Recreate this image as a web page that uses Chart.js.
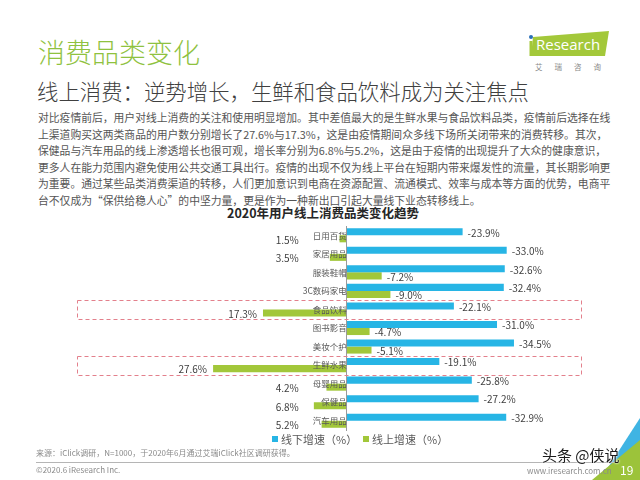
<!DOCTYPE html>
<html>
<head>
<meta charset="utf-8">
<script src="https://cdn.jsdelivr.net/npm/chart.js@4"></script>
<style>
  body { margin: 0; width: 640px; height: 480px; position: relative; overflow: hidden; background: #fff;
         font-family: "Noto Sans CJK SC", "Noto Sans", sans-serif; }
  .abs { position: absolute; white-space: nowrap; }
  #title { left: 38px; top: 36px; font-size: 27px; line-height: 32px; color: #8fc23f; font-weight: 300; }
  #subtitle { left: 37px; top: 77px; font-size: 21.4px; line-height: 28px; color: #404040; font-weight: 300; }
  #para { position: absolute; left: 38px; top: 109px; width: 565px; font-size: 10.8px; line-height: 16.6px; color: #555; }
  #para div { text-align: justify; text-align-last: justify; white-space: nowrap; }
  #para div.last { text-align-last: left; }
  #ctitle { left: 227px; top: 204px; font-size: 12.5px; line-height: 18px; font-weight: bold; color: #262626; }
  .legend { top: 432px; font-size: 11px; line-height: 14px; color: #595959; }
  .legend span { display: inline-block; width: 6px; height: 6px; margin-right: 3px; vertical-align: 2px; }
  #source { left: 36px; top: 447px; font-size: 8px; line-height: 12px; color: #8a8a8a; }
  #rule { position: absolute; left: 36px; top: 462px; width: 578px; height: 1px; background: #b5b5b5; }
  #copy { left: 36px; top: 464px; font-size: 8px; line-height: 12px; color: #8a8a8a; }
  #site { left: 527px; top: 465px; font-size: 8px; line-height: 12px; color: #8a8a8a; }
  #page { left: 620px; top: 463px; font-size: 12px; line-height: 14px; color: #fff; }
  #mark { left: 542px; top: 446px; font-size: 15px; line-height: 18px; color: #1a1a1a;
          text-shadow: 0 0 2px #fff, 0 0 2px #fff; }
  #brand { left: 536px; top: 34px; font-size: 15px; line-height: 20px; color: #fff; font-family: "Open Sans", sans-serif; }
  #brandcn { left: 535px; top: 62px; font-size: 7.5px; line-height: 10px; color: #8a8a8a; letter-spacing: 12px; }
  canvas { position: absolute; left: 0; top: 0; }
</style>
</head>
<body>
<svg class="abs" style="left:0;top:0" width="640" height="480">
  <polygon points="533,37 609,31 605,56 531,56" fill="#a3c83a"/>
  <circle cx="531" cy="37" r="2" fill="#2a6fb8"/>
  <rect x="529.5" y="41" width="3" height="15" fill="#a3c83a"/>
  <polygon points="600,480 640,418 640,480" fill="#3fb4e3"/>
  <polygon points="592,480 640,440 640,480" fill="#9cc33a"/>
</svg>
<div id="brand" class="abs">Research</div>
<div id="brandcn" class="abs">艾瑞咨询</div>

<div id="title" class="abs">消费品类变化</div>
<div id="subtitle" class="abs">线上消费：逆势增长，生鲜和食品饮料成为关注焦点</div>
<div id="para">
  <div>对比疫情前后，用户对线上消费的关注和使用明显增加。其中差值最大的是生鲜水果与食品饮料品类，疫情前后选择在线</div>
  <div>上渠道购买这两类商品的用户数分别增长了27.6%与17.3%，这是由疫情期间众多线下场所关闭带来的消费转移。其次，</div>
  <div>保健品与汽车用品的线上渗透增长也很可观，增长率分别为6.8%与5.2%，这是由于疫情的出现提升了大众的健康意识，</div>
  <div>更多人在能力范围内避免使用公共交通工具出行。疫情的出现不仅为线上平台在短期内带来爆发性的流量，其长期影响更</div>
  <div>为重要。通过某些品类消费渠道的转移，人们更加意识到电商在资源配置、流通模式、效率与成本等方面的优势，电商平</div>
  <div class="last">台不仅成为“保供给稳人心”的中坚力量，更是作为一种新出口引起大量线下业态转移线上。</div>
</div>
<div id="ctitle" class="abs">2020年用户线上消费品类变化趋势</div>

<canvas id="chart" width="640" height="480"></canvas>

<div class="abs legend" style="left:272px"><span style="background:#27b5e5"></span>线下增速（%）</div>
<div class="abs legend" style="left:363px"><span style="background:#a2c73a"></span>线上增速（%）</div>
<div id="source" class="abs">来源：iClick调研，N=1000，于2020年6月通过艾瑞iClick社区调研获得。</div>
<div id="rule"></div>
<div id="copy" class="abs">©2020.6 iResearch Inc.</div>
<div id="site" class="abs">www.iresearch.com.cn</div>
<div id="page" class="abs">19</div>
<div id="mark" class="abs">头条 @侠说</div>

<script>
// categories and growth rates (%)
const categories = ['日用百货', '家居用品', '服装鞋帽', '3C数码家电', '食品饮料', '图书影音', '美妆个护', '生鲜水果', '母婴用品', '保健品', '汽车用品'];
const offlineGrowth = [-23.9, -33.0, -32.6, -32.4, -22.1, -31.0, -34.5, -19.1, -25.8, -27.2, -32.9];
const onlineGrowth = [1.5, 3.5, -7.2, -9.0, 17.3, -4.7, -5.1, 27.6, 4.2, 6.8, 5.2];
const highlighted = ['食品饮料', '生鲜水果'];

const blue = '#27b5e5';
const green = '#a2c73a';

// value labels at the bar ends
const valueLabels = {
    id: 'valueLabels',
    afterDatasetsDraw(chart) {
        const ctx = chart.ctx;
        const axisX = chart.scales.x.getPixelForValue(0);
        ctx.save();
        ctx.font = '10px "Noto Sans CJK SC", sans-serif';
        ctx.fillStyle = '#404040';
        ctx.textBaseline = 'middle';
        chart.data.datasets.forEach((ds, i) => {
            chart.getDatasetMeta(i).data.forEach((bar, j) => {
                const v = ds.data[j];
                const txt = v.toFixed(1) + '%';
                if (v < 0) {
                    ctx.textAlign = 'left';
                    ctx.fillText(txt, bar.x + 5, bar.y + 1);
                } else {
                    ctx.textAlign = 'right';
                    ctx.fillText(txt, Math.min(bar.x - 6, axisX - 48), bar.y + 1);
                }
            });
        });
        ctx.restore();
    }
};

// dashed boxes round the highlighted rows
const highlightBoxes = {
    id: 'highlightBoxes',
    afterDraw(chart) {
        const ctx = chart.ctx;
        const y = chart.scales.y;
        const step = chart.chartArea.height / categories.length;
        ctx.save();
        ctx.strokeStyle = '#e3808c';
        ctx.lineWidth = 1;
        ctx.setLineDash([4, 3]);
        highlighted.forEach(name => {
            const cy = y.getPixelForValue(categories.indexOf(name));
            ctx.strokeRect(77.5, Math.round(cy - step / 2) + 0.5, 504, Math.round(step));
        });
        ctx.restore();
    }
};

new Chart(document.getElementById('chart'), {
    type: 'bar',
    data: {
        labels: categories,
        datasets: [{
            label: '线下增速（%）',
            data: offlineGrowth,
            backgroundColor: blue,
            categoryPercentage: 0.76,
            barPercentage: 1.0
        },
        {
            label: '线上增速（%）',
            data: onlineGrowth,
            backgroundColor: green,
            categoryPercentage: 0.76,
            barPercentage: 1.0
        }]
    },
    options: {
        indexAxis: 'y',
        responsive: false,
        animation: false,
        layout: {
            padding: { left: 153, right: 80, top: 226, bottom: 50 }
        },
        plugins: {
            legend: { display: false },
            tooltip: { enabled: false }
        },
        scales: {
            x: {
                display: false,
                reverse: true,
                min: -44,
                max: 40
            },
            y: {
                position: { x: 0 },
                grid: { display: false },
                border: { display: true, color: '#9a9a9a', width: 1, z: 1 },
                ticks: {
                    z: 1,
                    padding: 2,
                    color: '#595959',
                    font: { size: 8.5, family: '"Noto Sans CJK SC", sans-serif' }
                }
            }
        }
    },
    plugins: [valueLabels, highlightBoxes]
});
</script>
</body>
</html>
